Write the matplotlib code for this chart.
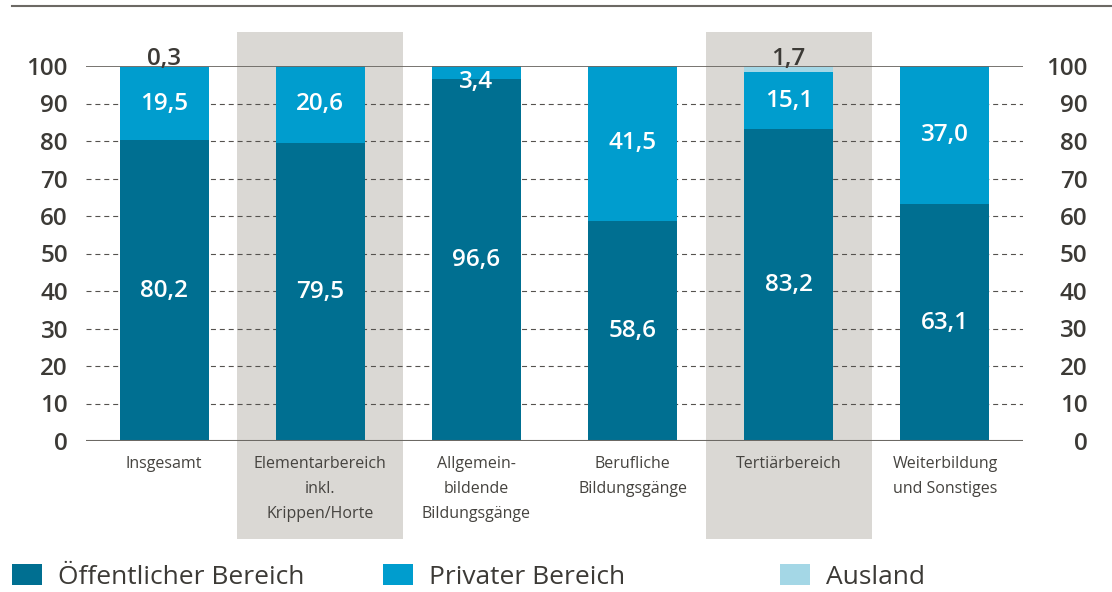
import matplotlib
matplotlib.use("Agg")
import matplotlib.pyplot as plt
from matplotlib.patches import Rectangle, Patch
from matplotlib.lines import Line2D

categories = ["Insgesamt", "Elementarbereich\ninkl.\nKrippen/Horte",
              "Allgemein-\nbildende\nBildungsgänge", "Berufliche\nBildungsgänge",
              "Tertiärbereich", "Weiterbildung\nund Sonstiges"]
oeffentlich = [80.2, 79.5, 96.6, 58.6, 83.2, 63.1]
privat = [19.5, 20.6, 3.4, 41.5, 15.1, 37.0]
ausland = [0.3, 0.0, 0.0, 0.0, 1.7, 0.0]
series_names = ["Öffentlicher Bereich", "Privater Bereich", "Ausland"]
shaded = [1, 4]
yticks = [0, 10, 20, 30, 40, 50, 60, 70, 80, 90, 100]

C_OEF = "#006f91"
C_PRI = "#009dce"
C_AUS = "#a4d7e6"
C_BG = "#dad8d4"
C_TXT = "#3c3a36"
C_LINE = "#6c6964"

FONT = "Open Sans"
plt.rcParams["font.family"] = [FONT, "DejaVu Sans"]

W, H = 1112, 592
fig = plt.figure(figsize=(W / 100, H / 100), dpi=100)
ax = fig.add_axes([86 / W, 1 - 441 / H, (1023 - 86) / W, (441 - 66) / H])
ax.set_xlim(-0.5, 5.5)
ax.set_ylim(0, 100)

x = list(range(len(categories)))
bw = 0.57

# shaded backgrounds
for i in shaded:
    ax.add_patch(Rectangle((i - 0.53, -26.1), 1.06, 135.2, facecolor=C_BG,
                           edgecolor="none", clip_on=False, zorder=0))

# grid lines
for t in yticks[1:-1]:
    ax.axhline(t, color="#55524e", lw=0.8, ls=(0, (4.5, 3.5)), zorder=1)
ax.axhline(100, color=C_LINE, lw=1.3, zorder=3)
ax.axhline(0, color=C_LINE, lw=1.5, zorder=3)

bottom2 = [a + b for a, b in zip(oeffentlich, privat)]
ax.bar(x, oeffentlich, bw, color=C_OEF, zorder=2)
ax.bar(x, privat, bw, bottom=oeffentlich, color=C_PRI, zorder=2)
ax.bar(x, ausland, bw, bottom=bottom2, color=C_AUS, zorder=2)

def fmt(v):
    return f"{v:.1f}".replace(".", ",")

lab_kw = dict(ha="center", fontsize=17.5, color="white", fontweight="semibold", zorder=4)
for i in x:
    o, p, a = oeffentlich[i], privat[i], ausland[i]
    ax.text(i, o / 2, fmt(o), va="center", **lab_kw)
    if p >= 5:
        ax.text(i, o + p / 2, fmt(p), va="center", **lab_kw)
    else:
        ax.text(i, o + p - 1.0, fmt(p), va="top", **lab_kw)
    if a > 0:
        ax.text(i, 98.8, fmt(a), ha="center", va="bottom", fontsize=17.5,
                color=C_TXT, fontweight="semibold", zorder=4)

for s in ax.spines.values():
    s.set_visible(False)
ax.set_yticks(yticks)
ax.set_yticklabels([str(t) for t in yticks], fontsize=17.5, color=C_TXT, fontweight="semibold")
ax.tick_params(axis="y", length=0, pad=13)
ax.set_xticks(x)
ax.set_xticklabels(categories, fontsize=11.5, color="#45433f", linespacing=1.75)
ax.tick_params(axis="x", length=0, pad=11)

ax2 = ax.twinx()
ax2.set_ylim(0, 100)
for s in ax2.spines.values():
    s.set_visible(False)
ax2.set_yticks(yticks)
ax2.set_yticklabels([str(t) for t in yticks], fontsize=17.5, color=C_TXT, fontweight="semibold")
ax2.tick_params(axis="y", length=0, pad=46.5)
for lab in ax2.get_yticklabels():
    lab.set_ha("right")

# top decorative line
fig.add_artist(Line2D([12 / W, 1.0], [1 - 6 / H, 1 - 6 / H], color=C_LINE, lw=1.5))

# legend
colors = [C_OEF, C_PRI, C_AUS]
legx = [12, 383, 780]
for name, c, lx in zip(series_names, colors, legx):
    fig.legend(handles=[Patch(facecolor=c, edgecolor="none")], labels=[name],
               loc="center left", bbox_to_anchor=(lx / W, 1 - 577 / H),
               frameon=False, fontsize=19, handlelength=1.14, handleheight=0.87,
               handletextpad=0.6, borderpad=0, borderaxespad=0,
               labelcolor=C_TXT)

fig.savefig("out.png", dpi=100)
